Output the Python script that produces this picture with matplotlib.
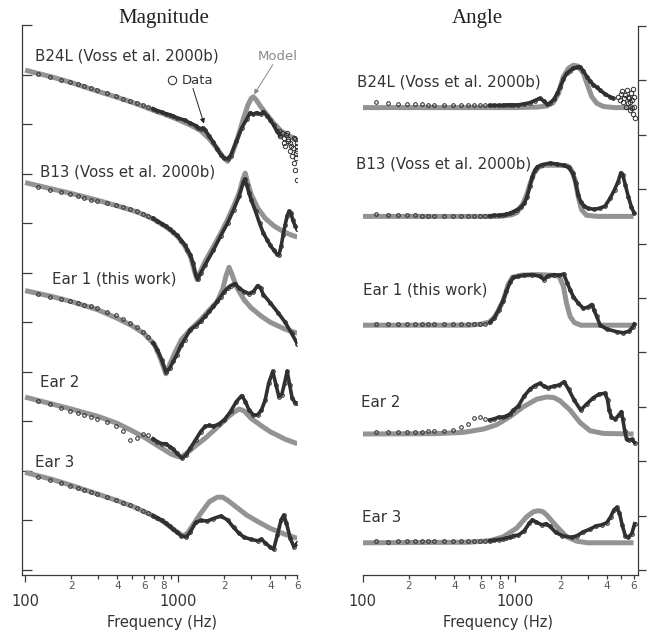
import matplotlib
matplotlib.use("Agg")
import matplotlib.pyplot as plt
import numpy as np
from matplotlib.ticker import FixedFormatter, FixedLocator

plt.rcParams["font.family"] = ["DejaVu Sans"]

# ---------------------------------------------------------------------------
# Data.  Levels are in arbitrary units, 10 per y tick.
# ---------------------------------------------------------------------------

# sparse low-frequency bins where the data circles are still separated (Hz)
F_LOW = [122, 146, 171, 195, 220, 244, 269, 293, 342, 391, 439, 488,
         537, 586, 635, 684, 732, 781, 830, 879, 928, 977]

# ---- Magnitude -------------------------------------------------------------
MAG_B24L_MODEL_F = [100, 150, 200, 300, 400, 500, 600, 700, 800, 1000, 1200, 1400,
                    1600, 1800, 1950, 2100, 2250, 2450, 2650, 2850, 3000, 3100, 3250,
                    3450, 3800, 4200, 4700, 5300, 6000]
MAG_B24L_MODEL = [100.9, 99.5, 98.4, 96.6, 95.4, 94.4, 93.5, 92.7, 92.1, 90.9, 89.8,
                  88.7, 87.0, 85.0, 83.5, 82.5, 84.0, 87.3, 90.8, 93.8, 95.2, 95.5,
                  94.8, 93.6, 91.9, 90.2, 88.6, 87.6, 86.9]
MAG_B24L_F = F_LOW + [1100, 1200, 1300, 1350, 1400, 1450, 1500, 1600, 1700, 1800, 1900,
                      2000, 2100, 2200, 2400, 2600, 2800, 2950, 3100, 3250, 3450, 3600,
                      3800, 4000, 4200, 4400, 4600]
MAG_B24L = [100.1, 99.6, 99.0, 98.5, 98.0, 97.6, 97.2, 96.9, 96.2, 95.7, 95.1, 94.7,
            94.3, 93.9, 93.5, 93.1, 92.7, 92.4, 92.1, 91.9, 91.6, 91.3,
            90.8, 90.2, 89.7, 89.3, 89.1, 89.2, 88.8, 87.5, 86.3, 85.0, 83.8,
            83.1, 83.0, 83.6, 86.5, 89.2, 91.0, 92.3, 92.0, 92.3, 92.0, 92.5,
            91.7, 90.8, 89.8, 88.6, 87.8]
MAG_B24L_SCATTER_F = [4530, 4640, 4760, 4880, 4900, 5010, 5060, 5130, 5190, 5250, 5340,
                      5400, 5450, 5540, 5620, 5680, 5700, 5760, 5820, 5880, 5910, 5970,
                      5985, 6000, 6000]
MAG_B24L_SCATTER = [88.6, 87.5, 88.2, 87.2, 86.2, 85.5, 87.9, 88.2, 86.5, 86.9, 84.5,
                    86.2, 85.5, 83.5, 85.2, 82.2, 87.2, 80.8, 86.9, 83.2, 84.2, 85.5,
                    84.5, 78.8, 86.2]

MAG_B13_MODEL_F = [100, 150, 200, 300, 400, 500, 600, 700, 800, 900, 1000, 1100, 1200,
                   1280, 1330, 1400, 1500, 1700, 1900, 2100, 2300, 2500, 2650, 2740,
                   2850, 3000, 3300, 3700, 4200, 4800, 5400, 6000]
MAG_B13_MODEL = [78.2, 76.9, 76.0, 74.6, 73.5, 72.6, 71.7, 70.7, 69.6, 68.5, 67.2, 65.5,
                 63.4, 60.3, 58.6, 60.3, 62.3, 65.3, 68.0, 70.7, 73.4, 76.1, 78.9, 80.1,
                 78.1, 75.8, 73.1, 71.0, 69.5, 68.4, 67.7, 67.2]
MAG_B13_F = F_LOW + [1050, 1100, 1150, 1200, 1250, 1300, 1340, 1400, 1500, 1700, 1900,
                     2100, 2300, 2500, 2650, 2720, 2800, 2900, 3000, 3200, 3400, 3600,
                     3800, 4000, 4200, 4400, 4550, 4700, 4850, 5000, 5150, 5300, 5450,
                     5600, 5800, 6000]
MAG_B13 = [77.4, 76.8, 76.2, 75.8, 75.4, 75.1, 74.7, 74.5, 74.0, 73.6, 73.2, 72.8,
           72.4, 71.9, 71.4, 71.0, 70.4, 69.9, 69.4, 68.8, 68.2, 67.6,
           66.5, 65.7, 64.6, 63.6, 61.9, 59.6, 58.7, 59.9, 61.6, 64.6, 67.5,
           70.0, 72.7, 75.4, 78.1, 78.9, 77.8, 76.1, 74.7, 72.4, 70.0, 68.0,
           66.7, 65.5, 64.6, 63.8, 63.6, 65.3, 67.7, 69.7, 71.5, 72.4, 72.1,
           70.7, 69.5, 68.8]

MAG_EAR1_MODEL_F = [100, 150, 200, 300, 400, 500, 600, 700, 750, 800, 830, 870, 950,
                    1050, 1200, 1400, 1600, 1800, 1950, 2050, 2150, 2250, 2400, 2700,
                    3000, 3500, 4000, 5000, 6000]
MAG_EAR1_MODEL = [56.4, 55.2, 54.2, 52.5, 50.8, 49.3, 47.7, 45.5, 43.4, 41.1, 39.6,
                  41.1, 43.8, 46.5, 48.5, 50.5, 52.5, 54.2, 56.6, 59.3, 61.1, 59.6,
                  57.2, 54.5, 52.9, 51.2, 50.0, 48.6, 47.8]
MAG_EAR1_F = F_LOW + [1050, 1100, 1200, 1300, 1400, 1500, 1600, 1700, 1800, 1900, 2000,
                      2100, 2200, 2350, 2500, 2700, 2900, 3100, 3300, 3450, 3600, 4000,
                      4500, 5000, 5500, 6000]
MAG_EAR1 = [55.8, 55.2, 54.7, 54.3, 53.9, 53.5, 53.2, 52.8, 52.1, 51.4, 50.6, 49.8,
            49.0, 48.1, 47.1, 45.9, 44.4, 42.4, 40.0, 40.7, 42.1, 43.4,
            45.5, 46.5, 48.5, 49.3, 50.2, 51.2, 52.2, 53.2, 54.2, 55.2, 56.2,
            56.9, 57.4, 57.8, 56.9, 56.2, 55.8, 56.2, 57.4, 56.9, 55.6, 53.9,
            51.9, 50.0, 47.8, 45.7]

MAG_EAR2_MODEL_F = [100, 150, 200, 300, 400, 500, 600, 700, 800, 900, 1000, 1050, 1150,
                    1300, 1500, 1700, 1900, 2100, 2300, 2500, 2700, 3000, 3500, 4000,
                    5000, 6000]
MAG_EAR2_MODEL = [34.9, 33.5, 32.5, 31.0, 29.6, 28.1, 26.8, 25.5, 24.4, 23.4, 22.9,
                  22.8, 23.7, 25.1, 26.6, 28.1, 29.5, 30.8, 31.8, 32.5, 32.1, 30.6,
                  29.1, 27.9, 26.4, 25.5]
MAG_EAR2_F = F_LOW + [1060, 1120, 1200, 1300, 1400, 1500, 1600, 1700, 1850, 2000, 2200,
                      2400, 2600, 2750, 2900, 3100, 3300, 3500, 3700, 3900, 4150, 4350,
                      4550, 4750, 4950, 5150, 5350, 5550, 5800, 6000]
MAG_EAR2 = [34.1, 33.5, 32.7, 32.1, 31.6, 31.2, 30.8, 30.4, 29.8, 29.0, 28.1, 26.3,
            26.7, 27.5, 27.3, 26.5, 25.9, 25.5, 25.5, 24.9, 24.4, 23.6,
            22.6, 23.2, 24.6, 26.3, 27.9, 29.0, 29.2, 29.0, 29.5, 30.3, 32.0,
            34.0, 35.2, 34.0, 32.3, 31.3, 31.3, 32.3, 34.3, 37.7, 40.1, 37.4,
            35.0, 35.4, 37.7, 40.1, 37.4, 34.7, 33.8, 33.7]

MAG_EAR3_MODEL_F = [100, 150, 200, 300, 400, 500, 600, 700, 800, 900, 1000, 1080, 1150,
                    1250, 1400, 1600, 1800, 1950, 2100, 2400, 2800, 3300, 4000, 5000,
                    6000]
MAG_EAR3_MODEL = [19.7, 18.3, 17.1, 15.3, 14.0, 12.9, 11.8, 10.8, 9.8, 8.6, 7.5, 6.9,
                  7.4, 9.1, 11.4, 13.8, 14.7, 14.7, 14.1, 12.7, 11.1, 9.8, 8.4, 7.2,
                  6.4]
MAG_EAR3_F = F_LOW + [1050, 1130, 1200, 1300, 1400, 1550, 1700, 1900, 2100, 2300, 2500,
                      2700, 3000, 3300, 3500, 3700, 4000, 4200, 4450, 4700, 4900, 5100,
                      5400, 5700, 6000]
MAG_EAR3 = [18.8, 18.1, 17.5, 17.0, 16.5, 16.1, 15.7, 15.4, 14.7, 14.1, 13.6, 13.1,
            12.6, 12.0, 11.5, 11.0, 10.5, 10.0, 9.4, 8.8, 8.2, 7.7,
            6.9, 6.7, 7.7, 9.6, 10.0, 9.9, 10.4, 10.9, 10.1, 8.6, 7.4,
            6.6, 6.2, 5.9, 6.2, 5.5, 4.6, 4.2, 7.1, 10.1, 11.1, 9.4,
            6.4, 4.7, 5.4]

# ---- Angle -----------------------------------------------------------------
ANG_B24L_MODEL_F = [100, 1000, 1400, 1620, 1780, 1930, 2070, 2240, 2420, 2600, 2810,
                    2960, 3190, 3440, 3800, 4500, 6000]
ANG_B24L_MODEL = [85.0, 85.0, 85.1, 85.3, 85.9, 87.6, 90.6, 92.2, 92.8, 92.6, 91.3,
                  89.5, 87.0, 85.8, 85.2, 85.0, 85.0]
ANG_B24L_F = F_LOW + [1050, 1150, 1250, 1350, 1450, 1550, 1620, 1700, 1800, 1900, 1975,
                      2080, 2185, 2300, 2410, 2540, 2670, 2800, 2960, 3120, 3270, 3450,
                      3620, 3900, 4200, 4420]
ANG_B24L = [86.0, 85.8, 85.7, 85.7, 85.6, 85.6, 85.5, 85.5, 85.5, 85.5, 85.5, 85.5,
            85.5, 85.5, 85.5, 85.4, 85.4, 85.4, 85.4, 85.5, 85.5, 85.5,
            85.5, 85.7, 85.9, 86.3, 86.7, 86.2, 85.6, 85.9, 86.5, 87.7, 88.8,
            90.2, 91.3, 91.8, 92.2, 92.4, 92.5, 91.8, 90.7, 89.8, 89.2, 88.7,
            88.2, 87.5, 87.0, 86.7]
ANG_B24L_SCATTER_F = [4770, 4890, 4950, 5020, 5150, 5200, 5280, 5360, 5410, 5480, 5550,
                      5640, 5690, 5720, 5780, 5840, 5880, 5930, 5990, 6050, 6080, 6140]
ANG_B24L_SCATTER = [87.0, 86.4, 87.5, 88.0, 86.1, 86.8, 87.3, 85.2, 88.2, 87.0, 85.8,
                    86.7, 84.6, 86.0, 87.6, 86.4, 85.0, 88.5, 83.9, 85.2, 87.0, 83.0]

ANG_B13_MODEL_F = [100, 800, 950, 1030, 1130, 1200, 1260, 1330, 1420, 1550, 1900, 2200,
                   2350, 2480, 2600, 2740, 2950, 3500, 6000]
ANG_B13_MODEL = [65.0, 65.0, 65.3, 65.7, 67.4, 69.2, 71.1, 72.9, 74.0, 74.4, 74.4, 74.3,
                 73.5, 71.7, 68.6, 66.2, 65.2, 65.0, 65.0]
ANG_B13_F = F_LOW + [1026, 1100, 1150, 1200, 1250, 1300, 1350, 1400, 1500, 1700, 1900,
                     2100, 2250, 2400, 2500, 2600, 2700, 2850, 3000, 3300, 3600, 3900,
                     4200, 4500, 4750, 4950, 5100, 5300, 5550, 5800, 6050]
ANG_B13 = [65.4, 65.3, 65.2, 65.2, 65.2, 65.1, 65.1, 65.1, 65.1, 65.1, 65.1, 65.1,
           65.1, 65.1, 65.1, 65.1, 65.2, 65.2, 65.3, 65.4, 65.6, 65.9,
           66.2, 66.8, 67.4, 68.6, 70.5, 72.3, 73.5, 74.1, 74.5, 74.8, 74.6,
           74.4, 74.0, 72.9, 71.1, 68.9, 67.7, 66.9, 66.5, 66.3, 66.5, 66.9,
           68.3, 69.9, 71.4, 73.0, 72.6, 70.8, 68.6, 66.8, 65.6]

ANG_EAR1_MODEL_F = [100, 500, 600, 680, 740, 790, 840, 900, 960, 1100, 1400, 1700, 1950,
                    2080, 2180, 2300, 2450, 2700, 6000]
ANG_EAR1_MODEL = [45.0, 45.0, 45.2, 45.6, 46.6, 48.1, 49.6, 52.4, 53.8, 54.2, 54.3,
                  54.2, 54.0, 52.1, 49.0, 46.6, 45.5, 45.0, 45.0]
ANG_EAR1_F = F_LOW + [1050, 1150, 1300, 1450, 1550, 1650, 1800, 1950, 2087, 2200, 2300,
                      2420, 2610, 2810, 3000, 3190, 3300, 3440, 3620, 4000, 4650, 5150,
                      5600, 5930, 6080]
ANG_EAR1 = [45.3, 45.3, 45.2, 45.2, 45.2, 45.2, 45.2, 45.2, 45.2, 45.2, 45.2, 45.2,
            45.2, 45.2, 45.2, 45.5, 46.4, 47.8, 49.4, 51.3, 52.9, 53.8,
            54.0, 54.2, 54.3, 54.0, 53.4, 54.1, 54.3, 54.2, 54.4, 52.8, 51.5,
            50.2, 49.0, 48.1, 48.3, 48.8, 47.8, 46.6, 45.0, 44.3, 43.8, 43.6,
            43.9, 44.7, 45.2]

ANG_EAR2_MODEL_F = [100, 300, 458, 620, 758, 928, 1135, 1388, 1615, 1800, 1975, 2298,
                    2673, 3110, 3804, 6000]
ANG_EAR2_MODEL = [25.0, 25.06, 25.3, 25.9, 26.7, 28.2, 30.0, 31.4, 31.8, 31.7, 31.1,
                  29.4, 27.1, 25.6, 25.1, 25.0]
ANG_EAR2_F = F_LOW + [1050, 1150, 1250, 1350, 1450, 1550, 1650, 1800, 1950, 2100, 2250,
                      2450, 2700, 2950, 3250, 3550, 3900, 4050, 4150, 4300, 4550, 4800,
                      5000, 5100, 5250, 5400, 5600, 5850, 6100]
ANG_EAR2 = [25.4, 25.4, 25.4, 25.4, 25.4, 25.4, 25.5, 25.5, 25.6, 25.8, 26.2, 26.8,
            27.9, 28.1, 27.8, 27.6, 27.8, 28.1, 28.1, 28.3, 28.7, 29.4,
            30.1, 32.0, 33.2, 33.9, 34.3, 33.8, 33.5, 33.8, 34.0, 34.6, 33.2,
            31.2, 29.4, 30.5, 31.6, 32.3, 32.5, 31.3, 29.4, 28.1, 27.7, 28.5,
            29.1, 27.7, 25.6, 24.0, 23.9, 24.0, 23.4]

ANG_EAR3_MODEL_F = [100, 500, 686, 838, 1026, 1194, 1320, 1424, 1530, 1615, 1878, 2185,
                    2542, 3000, 6000]
ANG_EAR3_MODEL = [5.0, 5.1, 5.4, 6.1, 7.7, 9.8, 10.7, 10.9, 10.7, 10.1, 8.0, 6.1, 5.3,
                  5.0, 5.0]
ANG_EAR3_F = F_LOW + [1050, 1150, 1240, 1300, 1380, 1500, 1600, 1700, 1850, 2050, 2350,
                      2550, 2800, 3100, 3400, 3700, 4000, 4250, 4450, 4650, 4850, 5050,
                      5300, 5550, 5850, 6100]
ANG_EAR3 = [5.4, 5.2, 5.4, 5.3, 5.3, 5.3, 5.3, 5.3, 5.3, 5.3, 5.3, 5.3,
            5.3, 5.3, 5.3, 5.4, 5.5, 5.6, 5.7, 5.9, 6.0, 6.3,
            6.4, 7.2, 8.6, 9.2, 8.8, 8.3, 8.5, 8.0, 6.9, 6.3, 6.0,
            6.3, 7.0, 7.5, 8.1, 8.3, 8.7, 9.8, 11.0, 11.5, 10.5, 8.3,
            6.3, 6.0, 6.7, 8.5]

MAG_LABELS = ["B24L (Voss et al. 2000b)", "B13 (Voss et al. 2000b)",
              "Ear 1 (this work)", "Ear 2", "Ear 3"]
ANG_LABELS = MAG_LABELS

MINOR_TICKS = [200, 300, 400, 500, 600, 700, 800, 900, 2000, 3000, 4000, 5000, 6000]
MINOR_LABELS = ["2", "", "4", "", "6", "", "8", "", "2", "", "4", "", "6"]

# ---------------------------------------------------------------------------
# Style
# ---------------------------------------------------------------------------
MODEL_GREY = "#939393"
DATA_DARK = "#303030"
AXIS_COL = "#3a3a3a"
TEXT_COL = "#333333"
DENSE_FROM = 650  # Hz, above this the data circles merge into a band

W, H = 647, 632


def draw_curve(ax, mf, mv, df, dv, sf=None, sv=None):
    ax.plot(mf, mv, color=MODEL_GREY, lw=3.6, solid_capstyle="butt", zorder=2)
    df = np.asarray(df, dtype=float)
    dv = np.asarray(dv, dtype=float)
    dense = df >= DENSE_FROM
    ax.plot(df, dv, ls="none", marker="o", ms=2.6, mfc="none", mec=DATA_DARK,
            mew=0.75, zorder=3)
    ax.plot(df[dense], dv[dense], color=DATA_DARK, lw=2.6, zorder=4,
            solid_joinstyle="round")
    if sf is not None:
        ax.plot(sf, sv, ls="none", marker="o", ms=3.2, mfc="none", mec=DATA_DARK,
                mew=0.7, zorder=4)


def style_xaxis(ax):
    ax.set_xscale("log")
    ax.xaxis.set_major_locator(FixedLocator([100, 1000]))
    ax.xaxis.set_major_formatter(FixedFormatter(["100", "1000"]))
    ax.xaxis.set_minor_locator(FixedLocator(MINOR_TICKS))
    ax.xaxis.set_minor_formatter(FixedFormatter(MINOR_LABELS))
    ax.tick_params(axis="x", which="major", direction="out", length=5, width=0.9,
                   pad=9, labelsize=10.5, color=AXIS_COL, labelcolor=TEXT_COL)
    ax.tick_params(axis="x", which="minor", direction="out", length=3, width=0.9,
                   pad=1.5, labelsize=7.5, color=AXIS_COL, labelcolor="#555555")
    ax.spines["top"].set_visible(False)
    for s in ax.spines.values():
        s.set_color(AXIS_COL)
        s.set_linewidth(0.9)


fig = plt.figure(figsize=(W / 100, H / 100), dpi=100)
axL = fig.add_axes([21.7 / W, 57 / H, 275.6 / W, 550 / H])
axR = fig.add_axes([362.7 / W, 57 / H, 275 / W, 549 / H])

# ---- magnitude panel
style_xaxis(axL)
axL.spines["right"].set_visible(False)
axL.set_xlim(95, 6000)
axL.set_ylim(-1.0, 110)
axL.set_yticks(np.arange(0, 111, 10))
axL.tick_params(axis="y", direction="in", length=7, width=0.9, labelleft=False,
                color=AXIS_COL)

draw_curve(axL, MAG_B24L_MODEL_F, MAG_B24L_MODEL, MAG_B24L_F, MAG_B24L,
           MAG_B24L_SCATTER_F, MAG_B24L_SCATTER)
draw_curve(axL, MAG_B13_MODEL_F, MAG_B13_MODEL, MAG_B13_F, MAG_B13)
draw_curve(axL, MAG_EAR1_MODEL_F, MAG_EAR1_MODEL, MAG_EAR1_F, MAG_EAR1)
draw_curve(axL, MAG_EAR2_MODEL_F, MAG_EAR2_MODEL, MAG_EAR2_F, MAG_EAR2)
draw_curve(axL, MAG_EAR3_MODEL_F, MAG_EAR3_MODEL, MAG_EAR3_F, MAG_EAR3)

mag_label_pos = [(116.8, 103.8), (125.4, 80.4), (150.4, 58.8), (125.4, 37.8), (116.8, 21.8)]
for (x, y), lab in zip(mag_label_pos, MAG_LABELS):
    axL.text(x, y, lab, fontsize=10.8, color=TEXT_COL, ha="left", va="center")

# legend-like annotations
axL.text(3290, 103.6, "Model", fontsize=9.5, color="#8a8a8a", ha="left", va="center")
axL.annotate("", xy=(3133, 96.0), xytext=(4155, 102.0),
             arrowprops=dict(arrowstyle="-|>", color="#8a8a8a", lw=0.7,
                             mutation_scale=7, shrinkA=0, shrinkB=0))
axL.plot([909], [98.8], ls="none", marker="o", ms=6, mfc="none", mec=TEXT_COL, mew=0.8,
         clip_on=False)
axL.text(1053, 98.8, "Data", fontsize=9.5, color=TEXT_COL, ha="left", va="center")
axL.annotate("", xy=(1474, 90.1), xytext=(1249, 97.2),
             arrowprops=dict(arrowstyle="-|>", color="#222222", lw=0.7,
                             mutation_scale=7, shrinkA=0, shrinkB=0))

# ---- angle panel
style_xaxis(axR)
axR.spines["left"].set_visible(False)
axR.set_xlim(100, 6390)
axR.set_ylim(-0.92, 100)
axR.yaxis.set_ticks_position("right")
axR.set_yticks(np.arange(0, 101, 10))
axR.tick_params(axis="y", direction="out", length=6, width=0.9, labelright=False,
                color=AXIS_COL)

draw_curve(axR, ANG_B24L_MODEL_F, ANG_B24L_MODEL, ANG_B24L_F, ANG_B24L,
           ANG_B24L_SCATTER_F, ANG_B24L_SCATTER)
draw_curve(axR, ANG_B13_MODEL_F, ANG_B13_MODEL, ANG_B13_F, ANG_B13)
draw_curve(axR, ANG_EAR1_MODEL_F, ANG_EAR1_MODEL, ANG_EAR1_F, ANG_EAR1)
draw_curve(axR, ANG_EAR2_MODEL_F, ANG_EAR2_MODEL, ANG_EAR2_F, ANG_EAR2)
draw_curve(axR, ANG_EAR3_MODEL_F, ANG_EAR3_MODEL, ANG_EAR3_F, ANG_EAR3)

ang_label_pos = [(91.3, 89.7), (90.4, 74.6), (100.5, 51.5), (97.0, 30.7), (99.0, 9.7)]
for (x, y), lab in zip(ang_label_pos, ANG_LABELS):
    axR.text(x, y, lab, fontsize=10.8, color=TEXT_COL, ha="left", va="center")

# ---- titles and axis labels
fig.text(164 / W, 1 - 18 / H, "Magnitude", fontsize=15, family="Liberation Serif",
         ha="center", va="center", color="#222222")
fig.text(477 / W, 1 - 19 / H, "Angle", fontsize=15, family="Liberation Serif",
         ha="center", va="center", color="#222222")
fig.text(162 / W, 1 - 623 / H, "Frequency (Hz)", fontsize=10.5, ha="center",
         va="center", color=TEXT_COL)
fig.text(498 / W, 1 - 623 / H, "Frequency (Hz)", fontsize=10.5, ha="center",
         va="center", color=TEXT_COL)

fig.savefig("out.png", dpi=100)
